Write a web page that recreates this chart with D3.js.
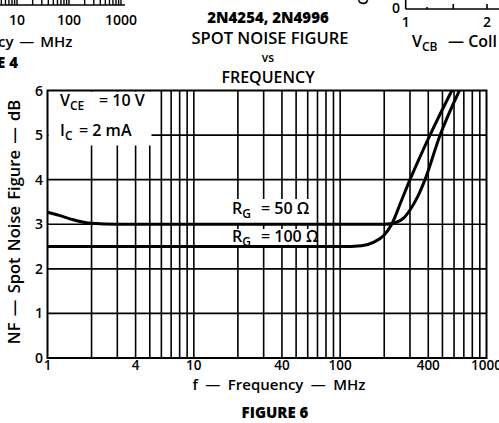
<!DOCTYPE html>
<html>
<head>
<meta charset="utf-8">
<title>Spot Noise Figure vs Frequency</title>
<script src="https://d3js.org/d3.v7.min.js"></script>
<style>
  body { margin: 0; background: #fff; }
  svg { display: block; font-family: "Open Sans", "Lato", sans-serif; }
  .grid line { stroke: #000; stroke-width: 1.6; }
  .curve { fill: none; stroke: #000; stroke-width: 3; }
  text { fill: #000; font-weight: 600; }
</style>
</head>
<body>
<script>
// data
var freq50 = [1, 1.2, 1.5, 2, 3, 10, 100, 200, 240, 270, 300, 340, 380, 482, 653];
var nf50   = [3.27, 3.2, 3.1, 3.02, 3.0, 3.0, 3.0, 3.0, 3.04, 3.13, 3.32, 3.63, 4.0, 5.0, 6.0];
var freq100 = [1, 10, 100, 140, 170, 200, 225, 260, 300, 411, 580];
var nf100   = [2.5, 2.5, 2.5, 2.52, 2.6, 2.76, 3.0, 3.5, 4.0, 5.0, 6.0];

var xTickLabels = [1, 4, 10, 40, 100, 400, 1000];
var yTickLabels = [0, 1, 2, 3, 4, 5, 6];
var xGrid = [2,3,4,5,6,7,8,9,10,20,30,40,50,60,70,80,90,100,200,300,400,500,600,700,800,900];
var yGrid = [1, 2, 3, 4, 5];

var w = 499, h = 423;

var svg = d3.select("body").append("svg")
    .attr("width", w)
    .attr("height", h);

var x = d3.scaleLog().domain([1, 1000]).range([47.5, 486.5]);
var y = d3.scaleLinear().domain([0, 6]).range([358, 90.5]);

// gridlines
var grid = svg.append("g").attr("class", "grid");
grid.selectAll(".vg").data(xGrid).enter().append("line")
    .attr("x1", function(d) { return x(d); })
    .attr("x2", function(d) { return x(d); })
    .attr("y1", y(6)).attr("y2", y(0));
grid.selectAll(".hg").data(yGrid).enter().append("line")
    .attr("x1", x(1)).attr("x2", x(1000))
    .attr("y1", function(d) { return y(d); })
    .attr("y2", function(d) { return y(d); });

// white patches behind the annotations
svg.append("rect").attr("x", x(1) + 1).attr("y", y(6) + 1)
    .attr("width", 103).attr("height", 54).attr("fill", "#fff");
svg.append("rect").attr("x", 231).attr("y", 199)
    .attr("width", 83).attr("height", 24).attr("fill", "#fff");
svg.append("rect").attr("x", 231).attr("y", 229)
    .attr("width", 83).attr("height", 17).attr("fill", "#fff");

// curves
var line = d3.line()
    .x(function(d) { return x(d[0]); })
    .y(function(d) { return y(d[1]); })
    .curve(d3.curveMonotoneX);

svg.append("clipPath").attr("id", "plot")
  .append("rect").attr("x", x(1)).attr("y", y(6))
    .attr("width", x(1000) - x(1)).attr("height", y(0) - y(6));

svg.append("path").attr("class", "curve").attr("clip-path", "url(#plot)")
    .attr("d", line(d3.zip(freq50, nf50)));
svg.append("path").attr("class", "curve").attr("clip-path", "url(#plot)")
    .attr("d", line(d3.zip(freq100, nf100)));

// frame
svg.append("rect")
    .attr("x", x(1)).attr("y", y(6))
    .attr("width", x(1000) - x(1)).attr("height", y(0) - y(6))
    .attr("fill", "none").attr("stroke", "#000").attr("stroke-width", 2);

// tick labels
svg.selectAll(".xl").data(xTickLabels).enter().append("text")
    .attr("x", function(d) { return x(d); })
    .attr("y", 370)
    .attr("text-anchor", "middle")
    .style("font-size", "13.5px")
    .text(function(d) { return d; });
svg.selectAll(".yl").data(yTickLabels).enter().append("text")
    .attr("x", 43)
    .attr("y", function(d) { return y(d) + 5; })
    .attr("text-anchor", "end")
    .style("font-size", "14px")
    .text(function(d) { return d; });

// axis titles
svg.append("text").attr("x", 279).attr("y", 390).attr("text-anchor", "middle")
    .style("font-size", "15px").style("word-spacing", "3.5px")
    .text("f \u2014 Frequency \u2014 MHz");
svg.append("text").attr("x", 275).attr("y", 418).attr("text-anchor", "middle")
    .style("font-size", "15px").style("font-weight", 800)
    .text("FIGURE 6");
svg.append("text")
    .attr("transform", "translate(20,222) rotate(-90)")
    .attr("text-anchor", "middle")
    .style("font-size", "16.5px").style("word-spacing", "2px")
    .text("NF \u2014 Spot Noise Figure \u2014 dB");

// chart title
svg.append("text").attr("x", 268).attr("y", 23).attr("text-anchor", "middle")
    .style("font-size", "15px").style("font-weight", 800)
    .text("2N4254, 2N4996");
svg.append("text").attr("x", 270).attr("y", 44).attr("text-anchor", "middle")
    .style("font-size", "16.5px")
    .text("SPOT NOISE FIGURE");
svg.append("text").attr("x", 268).attr("y", 62).attr("text-anchor", "middle")
    .style("font-size", "12px")
    .text("vs");
svg.append("text").attr("x", 268).attr("y", 83).attr("text-anchor", "middle")
    .style("font-size", "16px")
    .text("FREQUENCY");

// annotations: main letter, subscript, then the rest placed at its own x
function subLabel(px, py, main, sub, restX, rest) {
    var t = svg.append("text").attr("x", px).attr("y", py)
        .style("font-size", "16px");
    t.append("tspan").text(main);
    t.append("tspan").attr("dy", 4).style("font-size", "12px").text(sub);
    t.append("tspan").attr("x", restX).attr("dy", -4).text(rest);
}
subLabel(60, 106, "V", "CE", 99, "= 10 V");
subLabel(60, 136, "I", "C", 79, "= 2 mA");
subLabel(232, 214, "R", "G", 261, "= 50 \u03A9");
subLabel(232, 242, "R", "G", 261, "= 100 \u03A9");

// fragments of neighbouring figures at the page edges
var xl = d3.scaleLog().domain([10, 1000]).range([17, 121]);
var frag = svg.append("g").attr("stroke", "#000").attr("stroke-width", 1.4);
frag.append("line").attr("x1", 0).attr("x2", 125).attr("y1", 5).attr("y2", 5);
var fragTicks = [];
[0.1, 1, 10, 100].forEach(function(dec) {
    for (var k = 1; k < 10; k++) fragTicks.push(dec * k);
});
fragTicks.push(1000);
frag.selectAll(".ft").data(fragTicks.filter(function(d) { return xl(d) >= 0 && xl(d) <= 125; }))
    .enter().append("line")
    .attr("x1", function(d) { return xl(d); })
    .attr("x2", function(d) { return xl(d); })
    .attr("y1", 0)
    .attr("y2", 5);
[10, 100, 1000].forEach(function(d) {
    svg.append("text").attr("x", xl(d)).attr("y", 25).attr("text-anchor", "middle")
        .style("font-size", "14px").text(d);
});
svg.append("text").attr("x", -2).attr("y", 47)
    .style("font-size", "15px").style("word-spacing", "2px").text("cy \u2014 MHz");
svg.append("text").attr("x", -3).attr("y", 68)
    .style("font-size", "15px").style("font-weight", 800).text("E 4");

var xr = d3.scaleLog().domain([1, 2]).range([405.7, 487]);
var frag2 = svg.append("g").attr("stroke", "#000").attr("stroke-width", 1.6);
frag2.append("line").attr("x1", xr(1)).attr("x2", w).attr("y1", 9).attr("y2", 9);
frag2.append("line").attr("x1", xr(1)).attr("x2", xr(1)).attr("y1", 0).attr("y2", 9);
frag2.selectAll(".rt").data([1.2, 1.5, 2]).enter().append("line")
    .attr("x1", function(d) { return xr(d); })
    .attr("x2", function(d) { return xr(d); })
    .attr("y1", function(d) { return d === 1.2 ? 7 : 4; })
    .attr("y2", 9);
[1, 2].forEach(function(d) {
    svg.append("text").attr("x", xr(d)).attr("y", 27).attr("text-anchor", "middle")
        .style("font-size", "14px").text(d);
});
svg.append("text").attr("x", 400).attr("y", 13).attr("text-anchor", "end")
    .style("font-size", "14px").text("0");
svg.append("text").attr("transform", "translate(368,5) rotate(-90)")
    .style("font-size", "14px").text("Co");
subLabel(412, 47, "V", "CB", 448, "\u2014 Coll");
</script>
</body>
</html>
